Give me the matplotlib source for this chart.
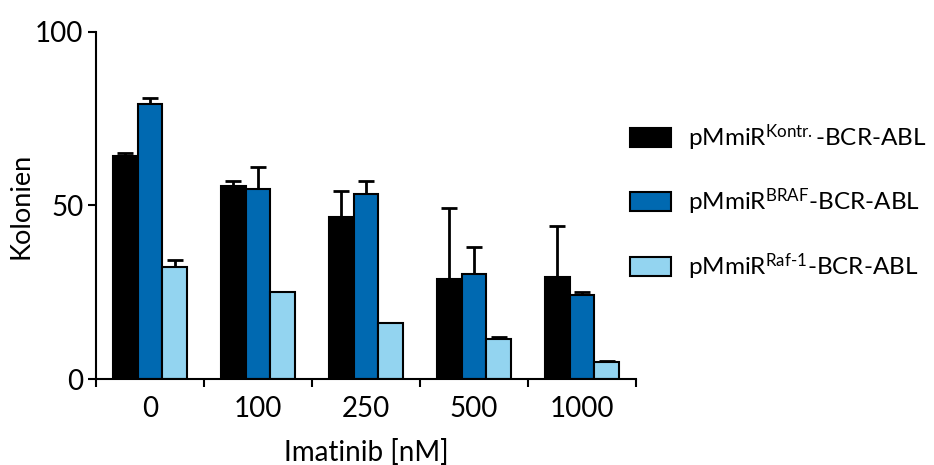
import numpy as np
import matplotlib.pyplot as plt
from matplotlib.patches import Patch

plt.rcParams['font.family'] = ['Lato', 'DejaVu Sans']
plt.rcParams['mathtext.fontset'] = 'custom'
plt.rcParams['mathtext.rm'] = 'Lato'
plt.rcParams['mathtext.it'] = 'Lato'

doses = ['0', '100', '250', '500', '1000']
labels = [r'pMmiR$^{\mathrm{Kontr.}}$-BCR-ABL',
          r'pMmiR$^{\mathrm{BRAF}}$-BCR-ABL',
          r'pMmiR$^{\mathrm{Raf\text{-}1}}$-BCR-ABL']
kontr = [64.4, 55.7, 46.8, 28.7, 29.3]
kontr_err = [0.7, 1.5, 7.4, 20.5, 14.9]
braf = [79.2, 54.7, 53.2, 30.2, 24.2]
braf_err = [1.9, 6.5, 3.9, 7.9, 1.0]
raf1 = [32.2, 25.2, 16.1, 11.6, 4.8]
raf1_err = [2.1, 0.0, 0.0, 0.6, 0.5]
colors = ['#000000', '#0069b1', '#93d4f0']

fig = plt.figure(figsize=(9.34, 4.65), dpi=100)
ax = fig.add_axes([96/934, 1 - 379/465, 540/934, 347/465])

x = np.arange(len(doses)) + 0.5
w = 0.227
series = [(kontr, kontr_err), (braf, braf_err), (raf1, raf1_err)]
for i, (vals, errs) in enumerate(series):
    pos = x + (i - 1) * w
    ax.bar(pos, vals, w, color=colors[i], edgecolor='black', linewidth=1.5, zorder=2)
    ax.errorbar(pos, vals, yerr=[np.zeros(len(errs)), errs], fmt='none',
                ecolor='black', elinewidth=2, capsize=6, capthick=2, zorder=1)

ax.set_xlim(0, 5)
ax.set_ylim(0, 100)
ax.set_yticks([0, 50, 100])
ax.set_xticks(x)
ax.set_xticklabels(doses)
ax.set_xticks(np.arange(6), minor=True)
ax.tick_params(axis='x', which='major', length=0, pad=12, labelsize=20)
ax.tick_params(axis='x', which='minor', length=6, width=1.5)
ax.tick_params(axis='y', length=6, width=1.5, labelsize=20, pad=3)
for s in ['top', 'right']:
    ax.spines[s].set_visible(False)
for s in ['left', 'bottom']:
    ax.spines[s].set_linewidth(1.5)

ax.set_ylabel('Kolonien', fontsize=19.5)
ax.yaxis.set_label_coords((34 - 96) / 540, 0.5)
ax.set_xlabel('Imatinib [nM]', fontsize=20)
ax.xaxis.set_label_coords(0.5, -(439 - 379) / 347)

handles = [Patch(facecolor=c, edgecolor='black', linewidth=1.5) for c in colors]
fig.legend(handles, labels, loc='center left', bbox_to_anchor=(608/934, 1 - 202/465),
           frameon=False, fontsize=17.5, handlelength=1.7, handleheight=0.85,
           labelspacing=1.4, handletextpad=0.7)

fig.savefig('out.png', dpi=100)
